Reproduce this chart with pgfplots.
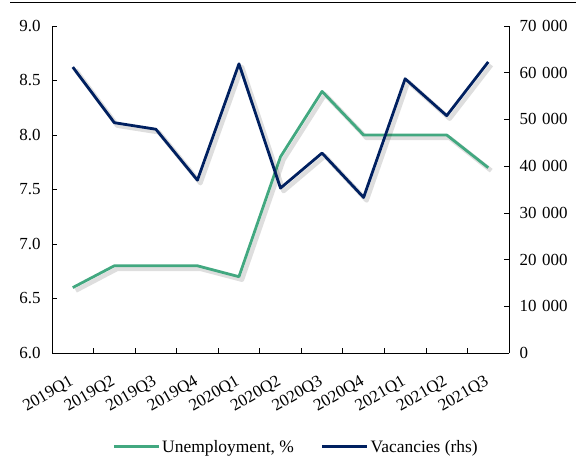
\documentclass[border=0pt]{standalone}
\usepackage{pgfplots}
\pgfplotsset{compat=1.18}
\usepackage{fontspec}
\setmainfont{Liberation Serif}
\definecolor{ungreen}{RGB}{66,168,128}
\definecolor{vacnavy}{RGB}{0,32,96}

\pgfplotsset{
  base/.style={
    at={(52bp,106bp)}, anchor=south west,
    width=457bp, height=327bp, scale only axis,
    xmin=-0.5, xmax=10.5,
    /pgf/number format/assume math mode=true,
    tick label style={font=\fontsize{17}{20}\selectfont},
    tick align=inside,
    major tick length=5bp, minor tick length=5bp,
    tick style={black, line width=0.7bp},
    axis line style={black, line width=0.8bp},
  },
  shadow/.style={draw=black, opacity=0.13, line width=4.5bp, line join=round,
    transform canvas={xshift=3bp, yshift=-3bp}},
}

\begin{document}
\begin{tikzpicture}[x=1bp,y=1bp]
\path[use as bounding box] (0,0) rectangle (576,459);
\draw[line width=1bp] (10,456) -- (576,456);

\begin{axis}[base,
    axis x line*=bottom, axis y line*=left,
    ymin=6, ymax=9, ytick={6,6.5,...,9},
    yticklabel style={/pgf/number format/fixed, /pgf/number format/fixed zerofill,
      /pgf/number format/precision=1, xshift=-8bp},
    xtick={0,...,10},
    xticklabels={2019Q1,2019Q2,2019Q3,2019Q4,2020Q1,2020Q2,2020Q3,2020Q4,2021Q1,2021Q2,2021Q3},
    xticklabel style={rotate=30, anchor=north east, xshift=-11bp, yshift=-13bp},
    major x tick style={draw=none},
    minor xtick={0.5,1.5,...,9.5},
]
\addplot[shadow] coordinates {
  (0,6.6)(1,6.8)(2,6.8)(3,6.8)(4,6.7)(5,7.8)(6,8.4)(7,8.0)(8,8.0)(9,8.0)(10,7.7)
};
\addplot[ungreen, line width=2.8bp, line join=round] coordinates {
  (0,6.6)(1,6.8)(2,6.8)(3,6.8)(4,6.7)(5,7.8)(6,8.4)(7,8.0)(8,8.0)(9,8.0)(10,7.7)
};
\end{axis}

\begin{axis}[base,
    axis x line=none, axis y line*=right,
    ymin=0, ymax=70000, ytick={0,10000,...,70000},
    scaled y ticks=false,
    yticklabel style={/pgf/number format/fixed, /pgf/number format/1000 sep={\,\,}, xshift=7bp},
    legend style={at={(0.534,-0.287)}, anchor=center, draw=none, fill=none,
      legend columns=2, font=\fontsize{17.5}{20}\selectfont,
      /tikz/every even column/.append style={column sep=25bp}},
    legend image code/.code={\draw[#1] (0bp,0bp) -- (45bp,0bp);},
]
\addplot[shadow, forget plot] coordinates {
  (0,61200)(1,49300)(2,47900)(3,37000)(4,61900)(5,35300)(6,42800)(7,33300)(8,58700)(9,50800)(10,62300)
};
\addlegendimage{ungreen, line width=2.8bp}
\addlegendentry{Unemployment, \%}
\addplot[vacnavy, line width=2.8bp, line join=round] coordinates {
  (0,61200)(1,49300)(2,47900)(3,37000)(4,61900)(5,35300)(6,42800)(7,33300)(8,58700)(9,50800)(10,62300)
};
\addlegendentry{Vacancies (rhs)}
\end{axis}
\end{tikzpicture}
\end{document}
